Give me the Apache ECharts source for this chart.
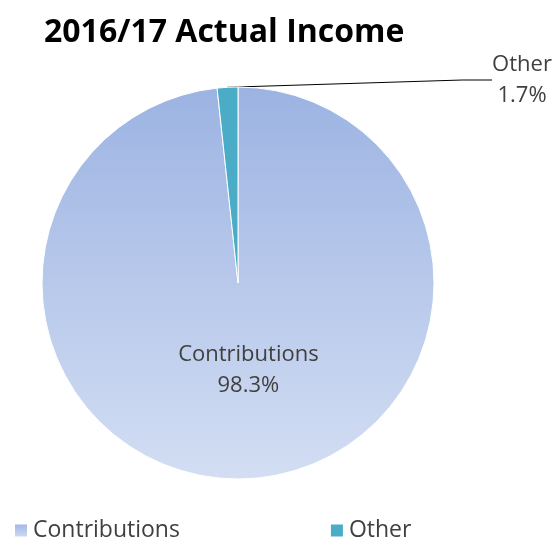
<!DOCTYPE html>
<html><head><meta charset="utf-8">
<script src="https://cdn.jsdelivr.net/npm/echarts@6/dist/echarts.min.js"></script>
<style>html,body{margin:0;padding:0;background:#fff}#c{width:557px;height:540px}</style>
</head><body><div id="c"></div>
<script>
const titleText = '2016/17 Actual Income';
const categories = ['Contributions', 'Other'];
const values = [98.3, 1.7];

const chart = echarts.init(document.getElementById('c'));
const grad = new echarts.graphic.LinearGradient(0, 0, 0, 1, [
  {offset: 0, color: '#9cb3e2'}, {offset: 1, color: '#d3def3'}
]);
const colors = [grad, '#4aacc6'];
chart.setOption({
  animation: false,
  title: {text: titleText, left: 39, top: 12,
    textStyle: {fontFamily: 'Open Sans', fontWeight: 'bold', fontSize: 32, color: '#000'}},
  legend: {
    bottom: -7, left: 8, itemGap: 149, icon: 'rect', itemWidth: 14, itemHeight: 14,
    textStyle: {fontFamily: 'Open Sans', fontSize: 23, color: '#404040'},
    data: categories
  },
  series: [{
    type: 'pie', center: [238, 283], radius: 196, startAngle: 90, clockwise: true,
    itemStyle: {borderColor: '#fff', borderWidth: 1},
    data: categories.map((c, i) => ({
      name: c, value: values[i], itemStyle: {color: colors[i]},
      label: i === 0 ? {position: 'inside', offset: [5, -14]} : {position: 'outside'},
      labelLine: {show: i !== 0, lineStyle: {color: '#000', width: 1}}
    })),
    label: {
      formatter: p => p.name + '\n' + p.value.toFixed(1) + '%',
      fontFamily: 'Open Sans', fontSize: 22, color: '#404040', lineHeight: 31, align: 'center'
    },
    labelLayout: p => p.dataIndex === 1 ? {x: 522, y: 80, align: 'center', verticalAlign: 'middle'} : {}
  }]
});
</script></body></html>
